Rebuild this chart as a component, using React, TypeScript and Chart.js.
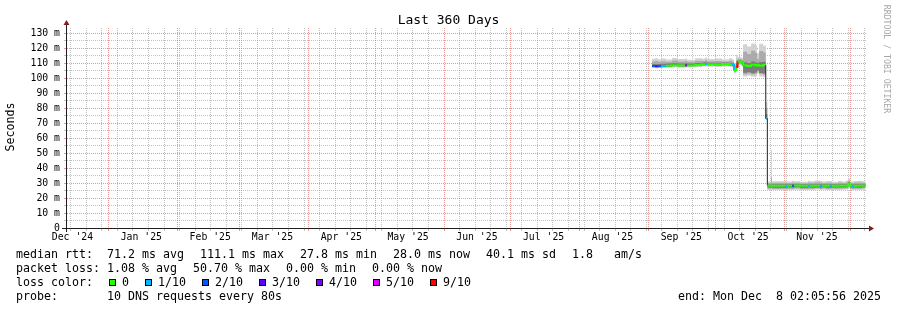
import React, { useEffect, useRef } from 'react';
import { Chart, registerables } from 'chart.js';

Chart.register(...registerables);

// ---- time base (x axis = days since start of the 360 day window) ----
const START_MS = Date.UTC(2024, 11, 13, 2, 5, 56);
const SPAN_DAYS = 360;
const dayOf = (y: number, m: number, d: number) => (Date.UTC(y, m, d) - START_MS) / 86400000;

// month boundaries (red major grid) and month labels (centred mid-month)
const monthStarts: [number, number][] = [
  [2025, 0], [2025, 1], [2025, 2], [2025, 3], [2025, 4], [2025, 5],
  [2025, 6], [2025, 7], [2025, 8], [2025, 9], [2025, 10], [2025, 11],
];
const monthLabels = ["Dec '24", "Jan '25", "Feb '25", "Mar '25", "Apr '25", "May '25", "Jun '25", "Jul '25", "Aug '25", "Sep '25", "Oct '25", "Nov '25"];
const monthLabelDates: [number, number, number][] = [
  [2024, 11, 16], [2025, 0, 16], [2025, 1, 16], [2025, 2, 16], [2025, 3, 16], [2025, 4, 16],
  [2025, 5, 16], [2025, 6, 16], [2025, 7, 16], [2025, 8, 16], [2025, 9, 16], [2025, 10, 16],
];
const firstSunday: [number, number, number] = [2024, 11, 15];

// y axis ticks (seconds, shown in ms)
const yMinorStep = 5;
const yTop = 130;
const yMax = 133.333;
const yTickValues = [0, 10, 20, 30, 40, 50, 60, 70, 80, 90, 100, 110, 120, 130];
const yTickLabels = ['0', '10 m', '20 m', '30 m', '40 m', '50 m', '60 m', '70 m', '80 m', '90 m', '100 m', '110 m', '120 m', '130 m'];

// ---- measured series (ms) ----
const sampleDays = [
  263.7, 265.1, 266.4, 267.8, 270.0, 272.7, 275.4, 278.6, 279.5, 283.1,
  286.2, 287.6, 288.5, 292.1, 295.2, 298.4, 299.7, 300.6, 301.5, 302.2,
  303.8, 304.7, 306.5, 308.3, 310.1, 311.0, 311.9, 313.7, 314.6, 314.9,
  315.4, 315.6, 317.3, 317.7, 323.6, 324.5, 326.7, 327.6, 330.3, 333.9,
  334.8, 337.1, 339.3, 340.2, 342.0, 343.8, 344.7, 347.4, 349.2, 351.0,
  351.9, 352.8, 353.7, 354.6, 356.4, 358.2, 359.8,
];
const medianMs = [
  108.0, 107.8, 107.9, 108.0, 108.2, 108.5, 108.3, 108.4, 108.4, 108.6,
  109.2, 109.3, 109.2, 109.0, 109.3, 109.0, 108.8, 105.2, 107.5, 111.0,
  110.5, 108.5, 108.0, 108.8, 108.3, 108.6, 108.2, 108.7, 108.5, 73.0,
  73.0, 28.3, 28.3, 28.2, 28.0, 28.1, 28.2, 28.3, 28.2, 28.0,
  28.2, 28.1, 28.1, 28.3, 28.2, 28.1, 28.2, 28.3, 28.1, 28.4,
  29.5, 28.2, 28.0, 28.2, 28.1, 28.3, 28.2,
];
const lostPings = [
  2, 3, 2, 1, 0, 0, 0, 4, 0, 0,
  0, 1, 0, 0, 0, 0, 1, 0, 9, 0,
  0, 0, 0, 0, 0, 0, 0, 0, 0, 1,
  1, 0, 0, 0, 1, 0, 2, 0, 0, 1,
  0, 0, 1, 0, 0, 1, 0, 0, 0, 0,
  0, 0, 1, 0, 0, 0, 0,
];
const smokeOuterLo = [
  106.6, 106.5, 106.8, 106.6, 106.9, 107.0, 106.8, 107.0, 107.1, 107.2,
  107.6, 107.7, 107.5, 107.4, 107.6, 107.3, 107.2, 103.0, 105.0, 108.5,
  108.0, 101.0, 101.5, 100.8, 101.2, 103.0, 101.0, 100.6, 101.0, 72.0,
  72.0, 25.4, 25.5, 25.3, 25.2, 25.4, 25.3, 25.5, 25.2, 25.4,
  25.3, 25.6, 25.2, 25.5, 25.2, 25.3, 25.4, 25.3, 25.5, 25.6,
  26.5, 25.4, 25.2, 25.4, 25.3, 25.5, 25.4,
];
const smokeOuterHi = [
  112.8, 113.2, 112.5, 113.0, 112.4, 113.4, 112.6, 113.0, 112.2, 113.2,
  112.8, 113.6, 112.6, 113.0, 112.4, 113.1, 112.5, 110.0, 115.5, 114.0,
  113.5, 122.5, 121.0, 123.0, 121.8, 116.5, 122.8, 121.5, 122.0, 84.0,
  84.0, 31.0, 52.0, 31.2, 31.4, 31.0, 31.5, 31.2, 30.9, 31.5,
  31.1, 31.6, 31.4, 31.0, 31.3, 31.3, 30.8, 31.4, 31.0, 31.6,
  33.0, 31.2, 31.0, 31.3, 31.5, 31.1, 31.2,
];
const smokeMidLo = [
  107.2, 107.0, 107.3, 107.2, 107.4, 107.6, 107.4, 107.6, 107.6, 107.8,
  108.2, 108.3, 108.2, 108.0, 108.2, 108.0, 107.8, 104.0, 106.0, 109.5,
  109.0, 102.5, 103.0, 102.4, 102.8, 104.5, 102.6, 102.2, 102.5, 72.5,
  72.5, 26.2, 26.3, 26.0, 26.0, 26.2, 26.1, 26.3, 26.0, 26.2,
  26.1, 26.3, 26.0, 26.3, 26.0, 26.1, 26.2, 26.1, 26.3, 26.4,
  27.2, 26.2, 26.0, 26.2, 26.1, 26.3, 26.2,
];
const smokeMidHi = [
  111.0, 111.4, 110.8, 111.2, 110.9, 111.6, 111.0, 111.3, 110.8, 111.5,
  111.4, 111.8, 111.2, 111.4, 111.0, 111.5, 111.0, 108.5, 112.0, 112.8,
  112.2, 117.5, 116.0, 118.2, 116.8, 112.5, 118.0, 117.0, 117.2, 80.0,
  80.0, 30.0, 34.0, 30.2, 30.3, 30.0, 30.4, 30.2, 29.9, 30.4,
  30.1, 30.5, 30.3, 30.0, 30.2, 30.2, 29.8, 30.3, 30.0, 30.5,
  31.5, 30.2, 30.0, 30.3, 30.4, 30.1, 30.2,
];
const smokeInnerLo = [
  107.6, 107.4, 107.6, 107.6, 107.8, 108.0, 107.8, 108.0, 108.0, 108.2,
  108.6, 108.8, 108.6, 108.5, 108.7, 108.5, 108.3, 104.6, 106.8, 110.0,
  109.6, 103.5, 103.8, 103.2, 103.6, 105.0, 103.4, 103.0, 103.4, 72.8,
  72.8, 27.0, 27.0, 26.9, 26.8, 27.0, 26.9, 27.1, 26.9, 27.0,
  26.9, 27.0, 26.8, 27.1, 26.9, 26.9, 27.0, 27.0, 27.0, 27.2,
  28.2, 27.0, 26.8, 27.0, 26.9, 27.1, 27.0,
];
const smokeInnerHi = [
  109.4, 109.2, 109.3, 109.5, 109.6, 109.9, 109.7, 109.8, 109.7, 110.0,
  110.3, 110.5, 110.2, 110.2, 110.3, 110.1, 110.0, 107.0, 109.5, 111.8,
  111.4, 110.5, 110.0, 111.0, 110.4, 110.0, 110.6, 110.8, 110.6, 76.0,
  76.0, 29.2, 29.4, 29.2, 29.0, 29.1, 29.3, 29.3, 29.2, 29.0,
  29.2, 29.1, 29.1, 29.3, 29.2, 29.1, 29.2, 29.3, 29.1, 29.4,
  30.5, 29.2, 29.0, 29.2, 29.1, 29.3, 29.2,
];

// loss colour legend
const lossLabels = ['0', '1/10', '2/10', '3/10', '4/10', '5/10', '9/10'];
const lossColors = ['#26ff00', '#00b8ff', '#0059ff', '#5e00ff', '#7e00ff', '#dd00ff', '#ff0000'];
const lossBucket = (n: number) => (n <= 4 ? n : n <= 8 ? 5 : 6);

// legend text
const rowMedian = ['median rtt:  71.2 ms avg', '111.1 ms max', '27.8 ms min', '28.0 ms now', '40.1 ms sd', '1.8   am/s'];
const rowLoss = ['packet loss: 1.08 % avg', '50.70 % max', '0.00 % min', '0.00 % now'];
const rowLossColorTitle = 'loss color:';
const rowProbe = 'probe:       10 DNS requests every 80s';
const endText = 'end: Mon Dec  8 02:05:56 2025';
const titleText = 'Last 360 Days';
const yAxisTitle = 'Seconds';
const watermark = 'RRDTOOL / TOBI OETIKER';

const MONO = '"DejaVu Sans Mono", monospace';

const monthStartDays = monthStarts.map(([y, m]) => dayOf(y, m, 1));
const monthLabelDays = monthLabelDates.map(([y, m, d]) => dayOf(y, m, d));
const weekDays: number[] = [];
for (let d = dayOf(...firstSunday); d < SPAN_DAYS; d += 7) weekDays.push(d);
const yGridValues: number[] = [];
for (let v = 0; v <= yTop; v += yMinorStep) yGridValues.push(v);

const MINOR = 'rgba(143,143,143,0.55)';
const MAJOR = 'rgba(222,79,79,0.6)';

const pts = (arr: number[]) => sampleDays.map((d, i) => ({ x: d, y: arr[i] }));

const band = (hi: number[], lo: number[], color: string, order: number) => [
  { data: pts(hi), fill: '+1', backgroundColor: color, borderColor: 'transparent', borderWidth: 0, pointRadius: 0, stepped: true, order },
  { data: pts(lo), fill: false, backgroundColor: color, borderColor: 'transparent', borderWidth: 0, pointRadius: 0, stepped: true, order },
];

// dotted rrdtool-style grid, placed through the chart's own scales
const gridPlugin = {
  id: 'rrdgrid',
  beforeDatasetsDraw(chart: any) {
    const ctx: CanvasRenderingContext2D = chart.ctx;
    const { left, right, top, bottom } = chart.chartArea;
    const xs = chart.scales.x;
    const ys = chart.scales.y;
    ctx.save();
    ctx.lineWidth = 1;
    ctx.lineCap = 'butt';
    ctx.lineDashOffset = 0;
    const vline = (px: number, color: string) => {
      ctx.strokeStyle = color;
      ctx.setLineDash([1, 1]);
      ctx.beginPath();
      ctx.moveTo(px, top);
      ctx.lineTo(px, bottom);
      ctx.stroke();
      ctx.setLineDash([]);
      ctx.beginPath();
      ctx.moveTo(px, bottom + 1);
      ctx.lineTo(px, bottom + 3);
      ctx.stroke();
    };
    const hline = (py: number, color: string) => {
      ctx.strokeStyle = color;
      ctx.setLineDash([1, 1]);
      ctx.beginPath();
      ctx.moveTo(left + 1, py);
      ctx.lineTo(right, py);
      ctx.stroke();
      ctx.setLineDash([]);
      ctx.beginPath();
      ctx.moveTo(left - 2, py);
      ctx.lineTo(left, py);
      ctx.stroke();
    };
    const isMajorDay = (d: number) => monthStartDays.some((m) => Math.abs(m - d) < 1e-6);
    weekDays.filter((d) => !isMajorDay(d)).forEach((d) => vline(Math.round(xs.getPixelForValue(d)) + 0.5, MINOR));
    yGridValues.filter((v) => v % 10 !== 0).forEach((v) => hline(Math.round(ys.getPixelForValue(v)) + 0.5, MINOR));
    monthStartDays.forEach((d) => vline(Math.round(xs.getPixelForValue(d)) + 0.5, MAJOR));
    yGridValues.filter((v) => v % 10 === 0 && v > 0).forEach((v) => hline(Math.round(ys.getPixelForValue(v)) + 0.5, MAJOR));
    ctx.restore();
  },
};

const decorPlugin = {
  id: 'decor',
  afterDraw(chart: any) {
    const ctx: CanvasRenderingContext2D = chart.ctx;
    const { left, right, top, bottom } = chart.chartArea;
    ctx.save();
    // axes
    ctx.strokeStyle = '#1f1f1f';
    ctx.lineWidth = 1;
    ctx.setLineDash([]);
    ctx.beginPath();
    ctx.moveTo(left - 4, bottom + 0.5);
    ctx.lineTo(right + 4, bottom + 0.5);
    ctx.moveTo(left + 0.5, bottom + 4);
    ctx.lineTo(left + 0.5, top - 4);
    ctx.stroke();
    // arrows
    ctx.fillStyle = '#801f1f';
    ctx.beginPath();
    ctx.moveTo(right + 3, bottom - 2.5);
    ctx.lineTo(right + 3, bottom + 3.5);
    ctx.lineTo(right + 8, bottom + 0.5);
    ctx.closePath();
    ctx.fill();
    ctx.beginPath();
    ctx.moveTo(left - 2.5, top - 3);
    ctx.lineTo(left + 3.5, top - 3);
    ctx.lineTo(left + 0.5, top - 8);
    ctx.closePath();
    ctx.fill();

    // title
    ctx.fillStyle = '#000';
    ctx.font = `13px ${MONO}`;
    ctx.textAlign = 'center';
    ctx.textBaseline = 'alphabetic';
    ctx.fillText(titleText, 448.5, 24);

    // y axis title
    ctx.save();
    ctx.translate(11, 127);
    ctx.rotate(-Math.PI / 2);
    ctx.font = `11.6px ${MONO}`;
    ctx.textAlign = 'center';
    ctx.textBaseline = 'middle';
    ctx.fillText(yAxisTitle, 0, 0);
    ctx.restore();

    // watermark
    ctx.save();
    ctx.translate(886, 59);
    ctx.rotate(Math.PI / 2);
    ctx.font = `8.2px ${MONO}`;
    ctx.fillStyle = '#a8a8a8';
    ctx.textAlign = 'center';
    ctx.textBaseline = 'middle';
    ctx.fillText(watermark, 0, 0);
    ctx.restore();

    // legend rows
    ctx.font = `11.63px ${MONO}`;
    ctx.fillStyle = '#000';
    ctx.textAlign = 'left';
    ctx.textBaseline = 'alphabetic';
    const GAP = 16;
    const drawRow = (items: string[], y: number) => {
      let x = 16;
      for (const it of items) {
        ctx.fillText(it, x, y);
        x += ctx.measureText(it).width + GAP;
      }
    };
    drawRow(rowMedian, 258);
    drawRow(rowLoss, 272);
    let x = 16;
    ctx.fillText(rowLossColorTitle, x, 286);
    x += ctx.measureText(rowLossColorTitle).width + GAP;
    lossLabels.forEach((lab, i) => {
      const bx = Math.round(x);
      ctx.fillStyle = lossColors[i];
      ctx.fillRect(bx, 279, 7, 7);
      ctx.strokeStyle = '#000';
      ctx.lineWidth = 1;
      ctx.strokeRect(bx + 0.5, 279.5, 6, 6);
      ctx.fillStyle = '#000';
      ctx.fillText(lab, x + 13, 286);
      x += 13 + ctx.measureText(lab).width + GAP;
    });
    ctx.fillText(rowProbe, 16, 300);
    ctx.textAlign = 'right';
    ctx.fillText(endText, 881, 300);
    ctx.restore();
  },
};

export default function App() {
  const ref = useRef<HTMLCanvasElement>(null);
  useEffect(() => {
    document.body.style.margin = '0';
    const medColors = lostPings.map((n) => lossColors[lossBucket(n)]);
    const chart = new Chart(ref.current as HTMLCanvasElement, {
      type: 'line',
      data: {
        datasets: [
          ...band(smokeOuterHi, smokeOuterLo, '#d2d2d2', 6),
          ...band(smokeMidHi, smokeMidLo, '#ababab', 5),
          ...band(smokeInnerHi, smokeInnerLo, '#7c7c7c', 4),
          { data: pts(medianMs), fill: false, borderColor: '#202020', borderWidth: 1, pointRadius: 0, stepped: true, order: 2 },
          {
            data: pts(medianMs), fill: false, borderColor: '#26ff00', borderWidth: 2,
            pointRadius: 0, stepped: true, order: 1,
            segment: {
              borderColor: (c: any) =>
                Math.abs(c.p1.parsed.y - c.p0.parsed.y) > 20 ? 'rgba(0,0,0,0)' : medColors[c.p0DataIndex],
            },
          },
        ] as any,
      },
      options: {
        animation: false,
        responsive: false,
        devicePixelRatio: 1,
        events: [],
        layout: { padding: { left: 0, top: 28, right: 31, bottom: 60 } },
        plugins: { legend: { display: false }, tooltip: { enabled: false }, title: { display: false } },
        elements: { line: { tension: 0 } },
        scales: {
          x: {
            type: 'linear', position: 'bottom', min: 0, max: SPAN_DAYS, weight: 0,
            afterFit: (s: any) => { s.height = 2; },
            ticks: { display: false },
            grid: { display: false, drawTicks: false },
            border: { display: false },
          } as any,
          xl: {
            type: 'linear', position: 'bottom', min: 0, max: SPAN_DAYS, weight: 1,
            afterBuildTicks: (s: any) => { s.ticks = monthLabelDays.map((v) => ({ value: v })); },
            afterFit: (s: any) => { s.height = 20; },
            ticks: {
              autoSkip: false, maxRotation: 0, padding: 2, color: '#000',
              font: { family: MONO, size: 9.8 },
              callback: (_v: any, i: number) => monthLabels[i],
            },
            grid: { display: false, drawTicks: false },
            border: { display: false },
          } as any,
          y: {
            type: 'linear', min: 0, max: yMax,
            afterBuildTicks: (s: any) => { s.ticks = yTickValues.map((v) => ({ value: v })); },
            afterFit: (s: any) => { s.width = 66; },
            ticks: {
              autoSkip: false, padding: 6, color: '#000',
              font: { family: MONO, size: 9.8 },
              callback: (_v: any, i: number) => yTickLabels[i],
            },
            grid: { display: false, drawTicks: false },
            border: { display: false },
          } as any,
        },
      },
      plugins: [gridPlugin, decorPlugin],
    });
    return () => chart.destroy();
  }, []);
  return (
    <div style={{ position: 'absolute', left: 0, top: 0, width: 897, height: 310, background: '#fff' }}>
      <canvas ref={ref} width={897} height={310} style={{ display: 'block', width: 897, height: 310 }} />
    </div>
  );
}
